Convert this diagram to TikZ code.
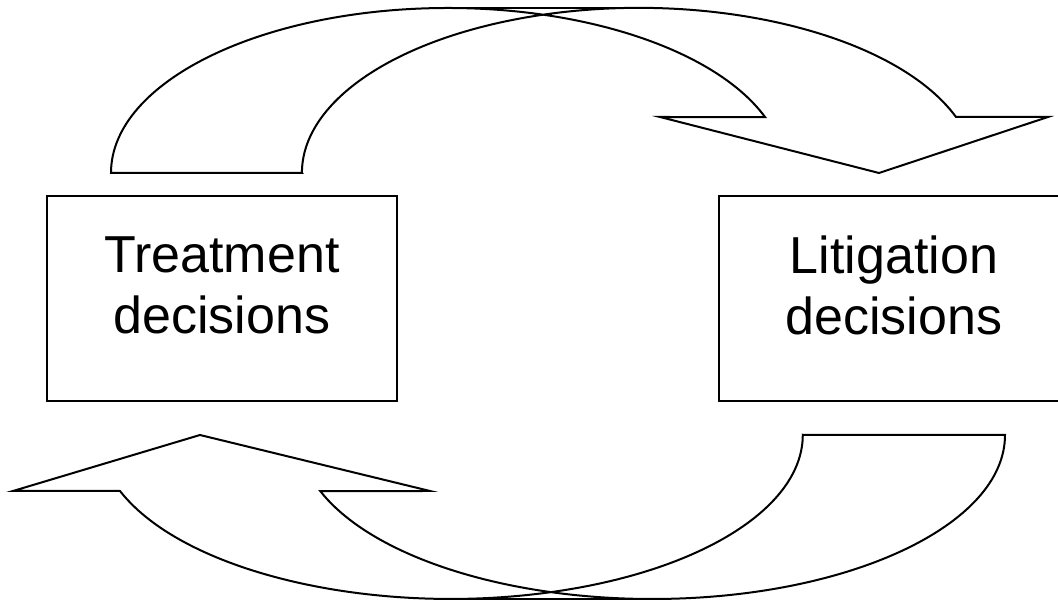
\documentclass[tikz,border=0pt]{standalone}
\usepackage{fontspec}
\setmainfont{Liberation Sans}

\begin{document}
\begin{tikzpicture}[x = 1 pt, y = 1 pt, line width = 2 pt,
	decision/.style = {draw, minimum width = 350 pt, minimum height = 205 pt, inner sep = 0 pt},
	caption/.style = {font = \fontsize{52}{61}\selectfont, align = center}]
	
	\useasboundingbox (0, 0) rectangle (1058, 604);
	
	% The upper arrow
	
	\draw [fill = white] (302, 431) -- (111, 431) arc [start angle = 180, end angle = 19.8, x radius = 337, y radius = 165] -- (660, 487) -- (879, 431) -- (1048, 487) -- (956, 487) arc [start angle = 19.8, end angle = 180, x radius = 337, y radius = 165] -- cycle;
	\draw (448, 596) -- (639, 596);
	
	% The lower arrow
	
	\draw [fill = white] (803, 169) -- (1005, 169) arc [start angle = 0, end angle = -160, x radius = 353, y radius = 164] -- (430, 113) -- (200, 169) -- (13, 113) -- (120, 113) arc [start angle = -160, end angle = 0, x radius = 352, y radius = 164] -- cycle;
	\draw (451, 5) -- (652, 5);
	
	% The boxes
	
	\node [decision] (treatment) at (222, 305.5) {};
	\node [decision] (litigation) at (894, 305.5) {};
	
	\node [caption] (treatment text) at ([yshift = 13.3 pt] treatment.center) {Treatment\\decisions};
	\node [caption] (litigation text) at ([yshift = 13.3 pt] litigation.center) {Litigation\\decisions};

\end{tikzpicture}
\end{document}
